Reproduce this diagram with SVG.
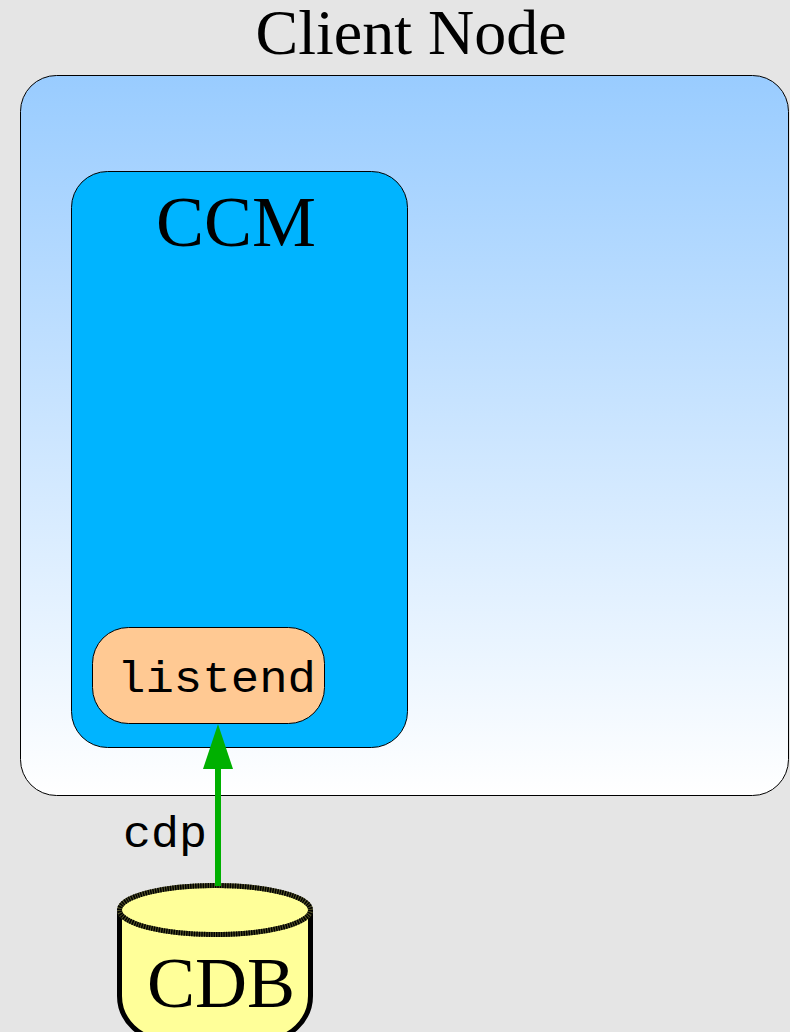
<svg xmlns="http://www.w3.org/2000/svg" width="790" height="1032" viewBox="0 0 790 1032">
<style>
.serif{font-family:"Liberation Serif",serif;fill:#000}
.mono{font-family:"Liberation Mono",monospace;fill:#000;stroke:#e5e5e500}
.box{stroke:#000;stroke-width:1}
.rim{fill:none;stroke:#000;stroke-width:5;stroke-dasharray:1.5 1}
</style>
<defs>
<linearGradient id="g" x1="0" y1="0" x2="0" y2="1"><stop offset="0" stop-color="#99ccff"/><stop offset="1" stop-color="#ffffff"/></linearGradient>
</defs>
<rect width="790" height="1032" fill="#e5e5e5"/>
<g id="client-node">
<rect class="box" x="20.500" y="75.500" width="768" height="720" rx="36" ry="36" fill="url(#g)"/>
<text class="serif" x="411" y="54" font-size="64" text-anchor="middle">Client Node</text>
</g>
<g id="ccm">
<rect class="box" x="71.500" y="171.500" width="336" height="576" rx="36" ry="36" fill="#00b4ff"/>
<text class="serif" x="236" y="246" font-size="72" text-anchor="middle">CCM</text>
</g>
<g id="listend">
<rect class="box" x="92.500" y="627.500" width="232" height="96" rx="36" ry="36" fill="#ffc993"/>
<text class="mono" x="117" y="692" font-size="44" textLength="199" lengthAdjust="spacingAndGlyphs">listend</text>
</g>
<g id="cdb">
<path d="M119.500 912V996C119.500 1020 140 1040 165 1040H265C290 1040 310.500 1020 310.500 996V912Z" fill="#ffff99" stroke="#000" stroke-width="5"/>
<ellipse cx="215" cy="910" rx="95.500" ry="24.500" fill="#ffff99" stroke="#55552a" stroke-width="5"/>
<ellipse class="rim" cx="215" cy="910" rx="95.500" ry="24.500"/>
<text class="serif" x="221" y="1007" font-size="72" text-anchor="middle">CDB</text>
</g>
<g id="connectors">
<line x1="218" y1="886" x2="218" y2="768" stroke="#00b000" stroke-width="6"/>
<polygon points="218,724 233,769 203,769" fill="#00b000"/>
<text class="mono" x="123" y="847" font-size="44" textLength="84" lengthAdjust="spacingAndGlyphs">cdp</text>
</g>
</svg>
